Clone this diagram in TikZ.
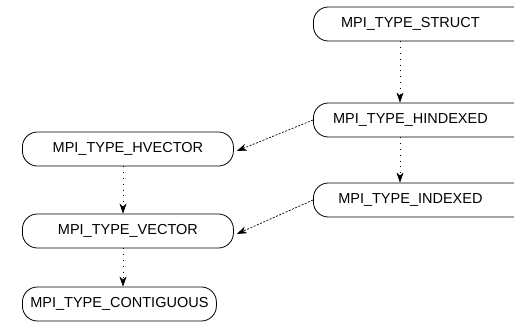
\documentclass[tikz,border=0pt]{standalone}
\usepackage{fontspec}
\setmainfont{Liberation Sans}
\usetikzlibrary{arrows.meta}

% text of a box that runs off the right edge: centred in the visible part
\newcommand{\cutlabel}[1]{\makebox[254pt][l]{\makebox[194pt]{#1}}}

\tikzset{
  typebox/.style={draw, line width=0.8pt, rounded corners=15pt,
    minimum height=34pt, inner ysep=0pt, font=\fontsize{14.5}{16}\selectfont},
  leftbox/.style={typebox, anchor=west, inner xsep=0pt},
  cutbox/.style={typebox, anchor=west, inner xsep=0pt},
  tip/.style={-{Stealth[length=10pt,width=7pt,inset=3pt]}},
  derive/.style={tip, line width=0.6pt, dash pattern=on 0.8pt off 5pt},
  hderive/.style={tip, line width=0.7pt, dash pattern=on 2pt off 1.5pt},
}

\begin{document}
\begin{tikzpicture}[x=1pt, y=-1pt]
  \useasboundingbox (0,0) rectangle (514,332);
  \clip (0,0) rectangle (514,332);

  % right column: boxes running past the right edge
  \node[cutbox] (struct)   at (313,24)  {\cutlabel{MPI\_TYPE\_STRUCT}};
  \node[cutbox] (hindexed) at (313,120) {\cutlabel{MPI\_TYPE\_HINDEXED}};
  \node[cutbox] (indexed)  at (313,200) {\cutlabel{MPI\_TYPE\_INDEXED}};

  % left column
  \node[leftbox, minimum width=211pt] (hvector)    at (22,149) {MPI\_TYPE\_HVECTOR};
  \node[leftbox, minimum width=211pt] (vector)     at (22,231) {MPI\_TYPE\_VECTOR};
  \node[leftbox, minimum width=194pt] (contiguous) at (22,304) {MPI\_TYPE\_CONTIGUOUS};

  % x positions of the vertical connectors
  \coordinate (rx) at (400,0);
  \coordinate (lx) at (123,0);

  \draw[derive] (struct.south -| rx)   -- (hindexed.north -| rx);
  \draw[derive] (hindexed.south -| rx) -- (indexed.north -| rx);
  \draw[derive] (hvector.south -| lx)  -- (vector.north -| lx);
  \draw[derive] (vector.south -| lx)   -- (contiguous.north -| lx);

  \draw[hderive] (hindexed.west) -- ([xshift=3pt,yshift=-2pt]hvector.east);
  \draw[hderive] (indexed.west)  -- ([xshift=3pt,yshift=-3pt]vector.east);
\end{tikzpicture}
\end{document}
